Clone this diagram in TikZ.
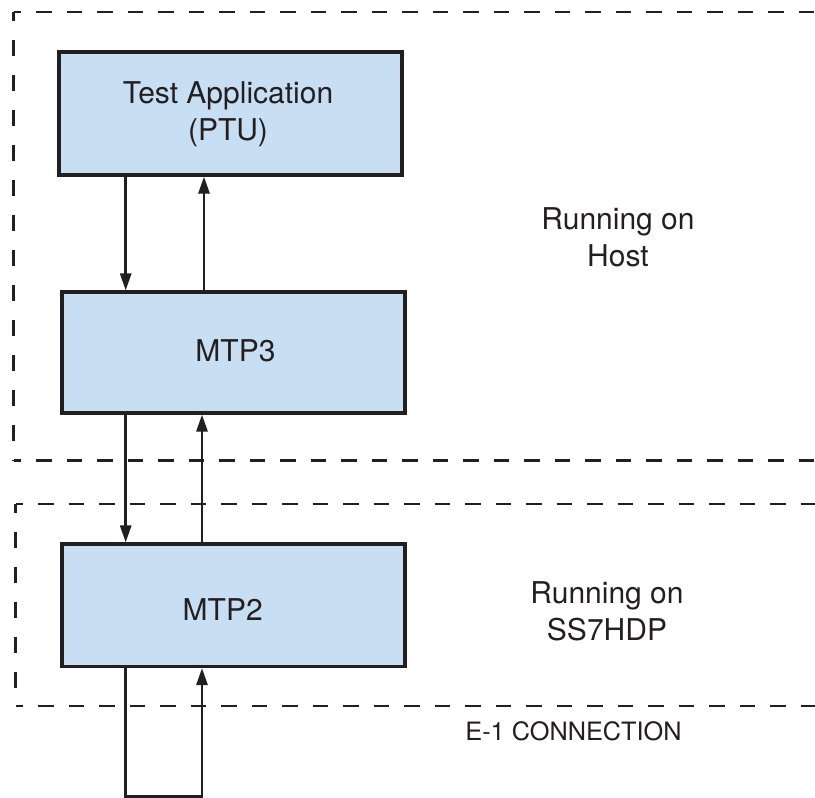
\documentclass[tikz,border=0pt]{standalone}
\usepackage{fontspec}
\setmainfont{TeX Gyre Heros}
\usetikzlibrary{arrows.meta}
\definecolor{ink}{RGB}{35,31,32}
\definecolor{boxfill}{RGB}{200,222,242}
\begin{document}
\begin{tikzpicture}[x=1pt,y=-1pt,
  box/.style={draw=ink,fill=boxfill,line width=3.1pt,rectangle,inner sep=0pt},
  lbl/.style={text=ink,font=\fontsize{30}{37.5}\selectfont,align=center,anchor=base,inner sep=0pt},
  small/.style={text=ink,font=\fontsize{25.3}{30}\selectfont,anchor=base,inner sep=0pt},
  hdash/.style={draw=ink,line width=2.6pt,dash pattern=on 15.5pt off 15pt,dash phase=8pt},
  vdash/.style={draw=ink,line width=2.6pt,dash pattern=on 15.5pt off 19.5pt,dash phase=7pt},
  arr/.style={draw=ink,line width=2.7pt,-{Triangle[length=17pt,width=11pt]}},
  plain/.style={draw=ink,line width=2.7pt}]
\useasboundingbox (0,0) rectangle (815,798);

% dashed regions
\draw[hdash] (13.5,12) -- (830,12);
\draw[vdash] (13.5,12) -- (13.5,460.5);
\draw[hdash] (13.5,460.5) -- (830,460.5);
\draw[hdash] (15.7,504) -- (830,504);
\draw[vdash] (15.7,504) -- (15.7,706);
\draw[hdash] (15.7,706) -- (830,706);

% boxes
\node[box,minimum width=343pt,minimum height=123pt] (test) at (230.5,113.5) {};
\node[box,minimum width=343pt,minimum height=121pt] (mtp3) at (233.5,352.5) {};
\node[box,minimum width=343pt,minimum height=122.5pt] (mtp2) at (233.5,605.25) {};

% texts (base = baseline of the last line)
\node[lbl] (ttest) at (228,140.8) {Test Application\\(PTU)};
\node[lbl] (tmtp3) at (235.5,361) {MTP3};
\node[lbl] (tmtp2) at (222.7,620) {MTP2};
\node[lbl] (thost) at (618,266.8) {Running on\\Host};
\node[lbl] (tss7) at (607,640.8) {Running on\\SS7HDP};
\node[small] (te1) at (573.5,740.7) {E-1 CONNECTION};

% connectors
\coordinate (xd) at (125.7,0);
\coordinate (xu1) at (204,0);
\coordinate (xu2) at (202,0);
\draw[arr] (xd |- test.south) -- (xd |- mtp3.north);
\draw[arr] (xu1 |- mtp3.north) -- (xu1 |- test.south);
\draw[arr] (xd |- mtp3.south) -- (xd |- mtp2.north);
\draw[arr] (xu2 |- mtp2.north) -- (xu2 |- mtp3.south);
\coordinate (loopL) at (125.7,796.5);
\coordinate (loopR) at (202,796.5);
\draw[arr] ([yshift=2pt]xd |- mtp2.south) -- (loopL) -- (loopR) -- (xu2 |- mtp2.south);
\end{tikzpicture}
\end{document}
